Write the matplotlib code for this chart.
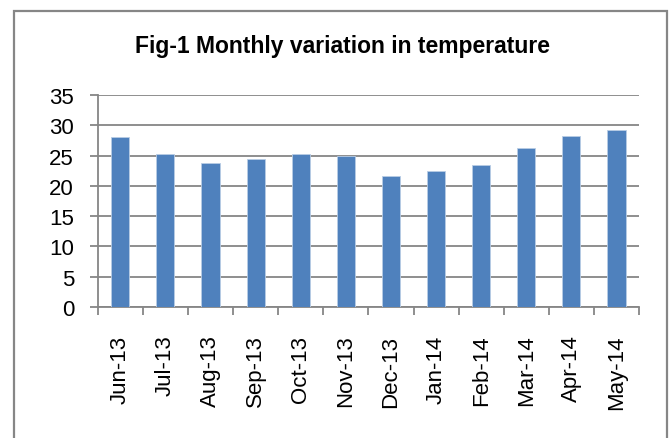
import matplotlib
matplotlib.use('Agg')
import matplotlib.pyplot as plt
from matplotlib.patches import Rectangle

# 月份與平均溫度
months = ['Jun-13', 'Jul-13', 'Aug-13', 'Sep-13', 'Oct-13', 'Nov-13',
          'Dec-13', 'Jan-14', 'Feb-14', 'Mar-14', 'Apr-14', 'May-14']
temps = [28.1, 25.2, 23.7, 24.5, 25.3, 25.0, 21.7, 22.4, 23.5, 26.2, 28.2, 29.3]
yticks = [0, 5, 10, 15, 20, 25, 30, 35]

grid_color = '#868686'
bar_color = '#4F81BD'

fig = plt.figure(figsize=(6.72, 4.39), dpi=100)
ax = fig.add_axes([0.1454, 0.299, 0.951 - 0.1454, 0.781 - 0.299])

# 外框 (底邊落在圖外)
fig.patches.append(Rectangle((14 / 672, -0.05), (667 - 14) / 672, 1.05 - 12 / 439,
                             transform=fig.transFigure, fill=False,
                             edgecolor=grid_color, linewidth=1.6))

x = list(range(len(months)))
ax.bar(x, temps, width=0.4, color=bar_color, edgecolor='#B9CDE5', linewidth=0.6, zorder=3)

ax.set_xlim(-0.5, len(months) - 0.5)
ax.set_ylim(0, 35)
ax.set_yticks(yticks)
ax.set_yticklabels([str(v) for v in yticks], fontsize=16, family=['Liberation Sans', 'DejaVu Sans'])
ax.yaxis.grid(True, color=grid_color, linewidth=1.3, zorder=0)
ax.tick_params(axis='y', length=6, width=1.3, color=grid_color, pad=11)

# x 軸刻度在類別邊界
ax.set_xticks([i - 0.5 for i in range(len(months) + 1)])
ax.set_xticklabels([])
ax.set_xticks(x, minor=True)
ax.set_xticklabels(months, minor=True, rotation=90, fontsize=16,
                   family=['Liberation Sans', 'DejaVu Sans'])
ax.tick_params(axis='x', which='major', length=6, width=1.3, color=grid_color, direction='out')
ax.tick_params(axis='x', which='minor', length=0, pad=20)

for side in ['top', 'right']:
    ax.spines[side].set_visible(False)
for side in ['left', 'bottom']:
    ax.spines[side].set_color(grid_color)
    ax.spines[side].set_linewidth(1.3)

fig.text(0.51, 1 - 47 / 439, 'Fig-1 Monthly variation in temperature',
         ha='center', va='center', fontsize=16.5, weight='bold',
         family=['Liberation Sans', 'DejaVu Sans'])

fig.savefig('out.png', dpi=100)
